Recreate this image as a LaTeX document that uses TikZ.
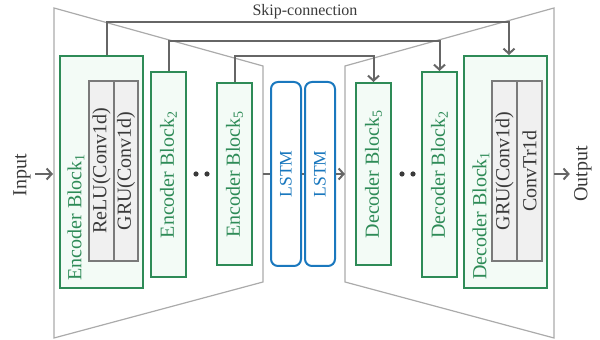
\documentclass[tikz,border=0pt]{standalone}
\usepackage{fontspec}
\setmainfont{Liberation Serif}
\usetikzlibrary{arrows.meta}
\definecolor{grn}{HTML}{2E8B57}
\definecolor{mint}{HTML}{F3FBF6}
\definecolor{lstmblue}{HTML}{1A78BE}
\definecolor{innerfill}{HTML}{F0F0F0}
\definecolor{innerdraw}{HTML}{7A7A7A}
\definecolor{skipc}{HTML}{666666}
\definecolor{trapc}{HTML}{ABABAB}
\definecolor{txtc}{HTML}{3A3A3A}
\tikzset{
  block/.style={draw=grn, fill=mint, line width=1pt, inner sep=0pt},
  innerbox/.style={draw=innerdraw, fill=innerfill, line width=0.8pt, inner sep=0pt},
  lstmbox/.style={draw=lstmblue, fill=white, line width=1pt, rounded corners=3.5pt, inner sep=0pt,
    minimum width=15pt, minimum height=92pt},
  lbl/.style={rotate=90, text=grn, font=\fontsize{10}{12}\selectfont, inner sep=0pt},
  ilbl/.style={rotate=90, text=txtc, font=\fontsize{10}{12}\selectfont, inner sep=0pt},
  lstmlbl/.style={rotate=90, text=lstmblue, font=\fontsize{8.8}{10}\selectfont, inner sep=0pt},
  iolbl/.style={rotate=90, text=txtc, font=\fontsize{10}{12}\selectfont, inner sep=2pt},
  trap/.style={draw=trapc, line width=0.6pt},
  skip/.style={draw=skipc, line width=1pt},
  arr/.style={draw=skipc, line width=1pt, -{Straight Barb[length=2.5pt,width=5.5pt]}},
  conn/.style={draw=skipc, line width=1pt},
  dotn/.style={circle, fill=txtc, inner sep=0pt, minimum size=2.6pt},
}
\begin{document}
\begin{tikzpicture}[x=0.5pt,y=-0.5pt]
\useasboundingbox (0,0) rectangle (600,340);
% trapezoids
\draw[trap] (54,8) -- (263,66) -- (263,282) -- (54,338) -- cycle;
\draw[trap] (554,8) -- (345,66) -- (345,282) -- (554,338) -- cycle;

% encoder blocks
\node[block, minimum width=41.5pt, minimum height=116pt] (eb1) at (101.5,172) {};
\node[innerbox, minimum width=12.5pt, minimum height=90pt] (eb1a) at (101.5,171) {};
\node[innerbox, minimum width=12pt, minimum height=90pt] (eb1b) at (126,171) {};
\node[lbl, anchor=west] (eb1l) at (76,281) {Encoder Block\textsubscript{1}};
\node[ilbl] (eb1al) at (eb1a) {ReLU(Conv1d)};
\node[ilbl] (eb1bl) at (eb1b) {GRU(Conv1d)};

\node[block, minimum width=17.5pt, minimum height=102.5pt] (eb2) at (168.5,174.5) {};
\node[lbl] (eb2l) at (eb2) {Encoder Block\textsubscript{2}};
\node[block, minimum width=17.5pt, minimum height=91pt] (eb5) at (234.5,174) {};
\node[lbl] (eb5l) at (eb5) {Encoder Block\textsubscript{5}};

% LSTM
\node[lstmbox] (lstm1) at (286,174) {};
\node[lstmlbl] (lstm1l) at (lstm1) {LSTM};
\node[lstmbox] (lstm2) at (320,174) {};
\node[lstmlbl] (lstm2l) at (lstm2) {LSTM};

% decoder blocks
\node[block, minimum width=17.5pt, minimum height=91pt] (db5) at (373.5,174) {};
\node[lbl] (db5l) at (db5) {Decoder Block\textsubscript{5}};
\node[block, minimum width=17.5pt, minimum height=102.5pt] (db2) at (439.5,174.5) {};
\node[lbl] (db2l) at (db2) {Decoder Block\textsubscript{2}};
\node[block, minimum width=41.5pt, minimum height=116pt] (db1) at (505.5,172) {};
\node[innerbox, minimum width=12.5pt, minimum height=90pt] (db1a) at (504.5,171) {};
\node[innerbox, minimum width=12.5pt, minimum height=90pt] (db1b) at (529.5,171) {};
\node[lbl, anchor=west] (db1l) at (481,280) {Decoder Block\textsubscript{1}};
\node[ilbl] (db1al) at (db1a) {GRU(Conv1d)};
\node[ilbl] (db1bl) at (db1b) {ConvTr1d};

% dots
\node[dotn] (d1) at (196,174) {};
\node[dotn] (d2) at (207,174) {};
\node[dotn] (d3) at (402,174) {};
\node[dotn] (d4) at (413,174) {};

% skip connections
\draw[skip, -{Straight Barb[length=2.5pt,width=5.5pt]}] ([xshift=2.75pt]eb1.north) -- ++(0,-33) -| ([xshift=1.75pt]db1.north);
\draw[skip, -{Straight Barb[length=2.5pt,width=5.5pt]}] (eb2.north) -- ++(0,-30) -| (db2.north);
\draw[skip, -{Straight Barb[length=2.5pt,width=5.5pt]}] (eb5.north) -- ++(0,-26) -| (db5.north);
\node[text=txtc, font=\fontsize{8}{10}\selectfont, inner sep=0pt] (skiplbl) at (305,12) {Skip-connection};

% center path
\coordinate (encR) at (263,174);
\coordinate (decL) at (345,174);
\draw[conn] (encR) -- (lstm1.west);
\draw[conn] (lstm1.east) -- (lstm2.west);
\draw[arr] (lstm2.east) -- (decL);

% input / output
\node[iolbl] (in) at (22,175) {Input};
\coordinate (inEnd) at (53,174);
\draw[arr] (in.south |- inEnd) -- (inEnd);
\node[iolbl] (out) at (583,174) {Output};
\coordinate (outStart) at (554,174);
\draw[arr] (outStart) -- (out.north |- outStart);
\end{tikzpicture}
\end{document}
